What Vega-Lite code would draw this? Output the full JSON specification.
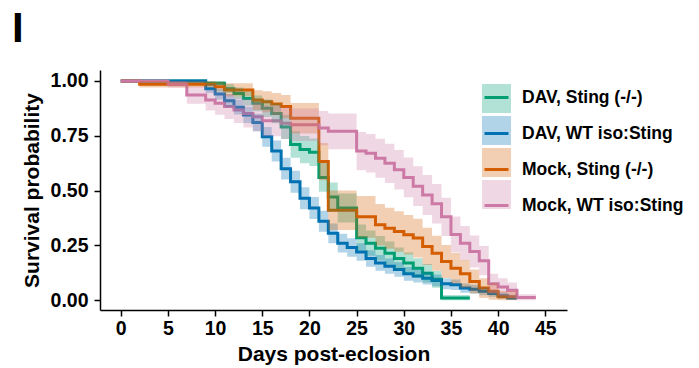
{
  "$schema": "https://vega.github.io/schema/vega-lite/v6.json",
  "width": 467,
  "height": 240,
  "autosize": {"type": "pad"},
  "padding": {"left": 12, "top": 8, "right": 0, "bottom": 0},
  "title": {"text": "I", "anchor": "start", "frame": "bounds", "fontSize": 42, "fontWeight": "bold", "font": "Liberation Sans", "color": "black", "dx": -9, "offset": 19},
  "config": {
    "view": {"stroke": null},
    "font": "Liberation Sans",
    "axis": {
      "domainColor": "black", "domainWidth": 1.5, "tickColor": "black", "tickWidth": 1.5, "tickSize": 6,
      "labelColor": "black", "labelFont": "Liberation Sans", "labelFontSize": 19.5, "labelFontWeight": "bold",
      "titleColor": "black", "titleFont": "Liberation Sans", "titleFontSize": 21, "titleFontWeight": "bold",
      "grid": false, "labelPadding": 3
    }
  },
  "data": {"values": [
    {"group": "DAV, Sting (-/-)", "day": 0, "surv": 1, "lower": 1, "upper": 1},
    {"group": "DAV, Sting (-/-)", "day": 9, "surv": 0.99, "lower": 0.98, "upper": 1},
    {"group": "DAV, Sting (-/-)", "day": 11, "surv": 0.965, "lower": 0.945, "upper": 0.985},
    {"group": "DAV, Sting (-/-)", "day": 12, "surv": 0.943, "lower": 0.916, "upper": 0.97},
    {"group": "DAV, Sting (-/-)", "day": 13, "surv": 0.92, "lower": 0.888, "upper": 0.952},
    {"group": "DAV, Sting (-/-)", "day": 14, "surv": 0.898, "lower": 0.862, "upper": 0.934},
    {"group": "DAV, Sting (-/-)", "day": 15, "surv": 0.875, "lower": 0.835, "upper": 0.915},
    {"group": "DAV, Sting (-/-)", "day": 16, "surv": 0.852, "lower": 0.807, "upper": 0.897},
    {"group": "DAV, Sting (-/-)", "day": 17, "surv": 0.79, "lower": 0.735, "upper": 0.845},
    {"group": "DAV, Sting (-/-)", "day": 18, "surv": 0.71, "lower": 0.65, "upper": 0.77},
    {"group": "DAV, Sting (-/-)", "day": 19, "surv": 0.687, "lower": 0.625, "upper": 0.749},
    {"group": "DAV, Sting (-/-)", "day": 20, "surv": 0.675, "lower": 0.612, "upper": 0.738},
    {"group": "DAV, Sting (-/-)", "day": 21, "surv": 0.56, "lower": 0.494, "upper": 0.626},
    {"group": "DAV, Sting (-/-)", "day": 22, "surv": 0.47, "lower": 0.403, "upper": 0.537},
    {"group": "DAV, Sting (-/-)", "day": 23, "surv": 0.42, "lower": 0.354, "upper": 0.486},
    {"group": "DAV, Sting (-/-)", "day": 25, "surv": 0.285, "lower": 0.225, "upper": 0.345},
    {"group": "DAV, Sting (-/-)", "day": 26, "surv": 0.26, "lower": 0.202, "upper": 0.318},
    {"group": "DAV, Sting (-/-)", "day": 27, "surv": 0.237, "lower": 0.181, "upper": 0.293},
    {"group": "DAV, Sting (-/-)", "day": 28, "surv": 0.214, "lower": 0.16, "upper": 0.268},
    {"group": "DAV, Sting (-/-)", "day": 29, "surv": 0.19, "lower": 0.14, "upper": 0.24},
    {"group": "DAV, Sting (-/-)", "day": 30, "surv": 0.169, "lower": 0.121, "upper": 0.217},
    {"group": "DAV, Sting (-/-)", "day": 31, "surv": 0.146, "lower": 0.101, "upper": 0.191},
    {"group": "DAV, Sting (-/-)", "day": 32, "surv": 0.123, "lower": 0.081, "upper": 0.165},
    {"group": "DAV, Sting (-/-)", "day": 33, "surv": 0.095, "lower": 0.057, "upper": 0.133},
    {"group": "DAV, Sting (-/-)", "day": 34, "surv": 0.01, "lower": 0, "upper": 0.024},
    {"group": "DAV, Sting (-/-)", "day": 37, "surv": 0.01, "lower": 0, "upper": 0.024},

    {"group": "DAV, WT iso:Sting", "day": 0, "surv": 1, "lower": 1, "upper": 1},
    {"group": "DAV, WT iso:Sting", "day": 9, "surv": 0.965, "lower": 0.945, "upper": 0.985},
    {"group": "DAV, WT iso:Sting", "day": 10, "surv": 0.94, "lower": 0.915, "upper": 0.965},
    {"group": "DAV, WT iso:Sting", "day": 11, "surv": 0.91, "lower": 0.88, "upper": 0.94},
    {"group": "DAV, WT iso:Sting", "day": 12, "surv": 0.88, "lower": 0.847, "upper": 0.913},
    {"group": "DAV, WT iso:Sting", "day": 13, "surv": 0.845, "lower": 0.808, "upper": 0.882},
    {"group": "DAV, WT iso:Sting", "day": 14, "surv": 0.81, "lower": 0.77, "upper": 0.85},
    {"group": "DAV, WT iso:Sting", "day": 15, "surv": 0.745, "lower": 0.7, "upper": 0.79},
    {"group": "DAV, WT iso:Sting", "day": 16, "surv": 0.68, "lower": 0.632, "upper": 0.728},
    {"group": "DAV, WT iso:Sting", "day": 17, "surv": 0.6, "lower": 0.55, "upper": 0.65},
    {"group": "DAV, WT iso:Sting", "day": 18, "surv": 0.54, "lower": 0.49, "upper": 0.59},
    {"group": "DAV, WT iso:Sting", "day": 19, "surv": 0.465, "lower": 0.415, "upper": 0.515},
    {"group": "DAV, WT iso:Sting", "day": 20, "surv": 0.42, "lower": 0.37, "upper": 0.47},
    {"group": "DAV, WT iso:Sting", "day": 21, "surv": 0.36, "lower": 0.312, "upper": 0.408},
    {"group": "DAV, WT iso:Sting", "day": 22, "surv": 0.305, "lower": 0.26, "upper": 0.35},
    {"group": "DAV, WT iso:Sting", "day": 23, "surv": 0.26, "lower": 0.217, "upper": 0.303},
    {"group": "DAV, WT iso:Sting", "day": 24, "surv": 0.24, "lower": 0.198, "upper": 0.282},
    {"group": "DAV, WT iso:Sting", "day": 25, "surv": 0.22, "lower": 0.18, "upper": 0.26},
    {"group": "DAV, WT iso:Sting", "day": 26, "surv": 0.19, "lower": 0.152, "upper": 0.228},
    {"group": "DAV, WT iso:Sting", "day": 27, "surv": 0.17, "lower": 0.134, "upper": 0.206},
    {"group": "DAV, WT iso:Sting", "day": 28, "surv": 0.155, "lower": 0.12, "upper": 0.19},
    {"group": "DAV, WT iso:Sting", "day": 29, "surv": 0.14, "lower": 0.107, "upper": 0.173},
    {"group": "DAV, WT iso:Sting", "day": 30, "surv": 0.12, "lower": 0.089, "upper": 0.151},
    {"group": "DAV, WT iso:Sting", "day": 31, "surv": 0.11, "lower": 0.08, "upper": 0.14},
    {"group": "DAV, WT iso:Sting", "day": 32, "surv": 0.1, "lower": 0.071, "upper": 0.129},
    {"group": "DAV, WT iso:Sting", "day": 33, "surv": 0.09, "lower": 0.063, "upper": 0.117},
    {"group": "DAV, WT iso:Sting", "day": 34, "surv": 0.075, "lower": 0.05, "upper": 0.1},
    {"group": "DAV, WT iso:Sting", "day": 35, "surv": 0.07, "lower": 0.046, "upper": 0.094},
    {"group": "DAV, WT iso:Sting", "day": 36, "surv": 0.055, "lower": 0.034, "upper": 0.076},
    {"group": "DAV, WT iso:Sting", "day": 37, "surv": 0.05, "lower": 0.03, "upper": 0.07},
    {"group": "DAV, WT iso:Sting", "day": 38, "surv": 0.04, "lower": 0.022, "upper": 0.058},
    {"group": "DAV, WT iso:Sting", "day": 39, "surv": 0.03, "lower": 0.015, "upper": 0.045},
    {"group": "DAV, WT iso:Sting", "day": 40, "surv": 0.02, "lower": 0.008, "upper": 0.035},
    {"group": "DAV, WT iso:Sting", "day": 41, "surv": 0.01, "lower": 0.002, "upper": 0.025},
    {"group": "DAV, WT iso:Sting", "day": 42, "surv": 0.01, "lower": 0.002, "upper": 0.025},

    {"group": "Mock, Sting (-/-)", "day": 0, "surv": 1, "lower": 1, "upper": 1},
    {"group": "Mock, Sting (-/-)", "day": 2, "surv": 0.985, "lower": 0.97, "upper": 1},
    {"group": "Mock, Sting (-/-)", "day": 10, "surv": 0.974, "lower": 0.952, "upper": 0.996},
    {"group": "Mock, Sting (-/-)", "day": 11, "surv": 0.959, "lower": 0.929, "upper": 0.989},
    {"group": "Mock, Sting (-/-)", "day": 14, "surv": 0.913, "lower": 0.868, "upper": 0.958},
    {"group": "Mock, Sting (-/-)", "day": 15, "surv": 0.905, "lower": 0.857, "upper": 0.953},
    {"group": "Mock, Sting (-/-)", "day": 16, "surv": 0.895, "lower": 0.845, "upper": 0.945},
    {"group": "Mock, Sting (-/-)", "day": 17, "surv": 0.883, "lower": 0.83, "upper": 0.936},
    {"group": "Mock, Sting (-/-)", "day": 18, "surv": 0.83, "lower": 0.76, "upper": 0.9},
    {"group": "Mock, Sting (-/-)", "day": 21, "surv": 0.632, "lower": 0.547, "upper": 0.717},
    {"group": "Mock, Sting (-/-)", "day": 22, "surv": 0.41, "lower": 0.32, "upper": 0.5},
    {"group": "Mock, Sting (-/-)", "day": 25, "surv": 0.38, "lower": 0.285, "upper": 0.475},
    {"group": "Mock, Sting (-/-)", "day": 27, "surv": 0.344, "lower": 0.249, "upper": 0.439},
    {"group": "Mock, Sting (-/-)", "day": 28, "surv": 0.328, "lower": 0.235, "upper": 0.421},
    {"group": "Mock, Sting (-/-)", "day": 29, "surv": 0.313, "lower": 0.221, "upper": 0.405},
    {"group": "Mock, Sting (-/-)", "day": 30, "surv": 0.298, "lower": 0.208, "upper": 0.388},
    {"group": "Mock, Sting (-/-)", "day": 31, "surv": 0.283, "lower": 0.195, "upper": 0.371},
    {"group": "Mock, Sting (-/-)", "day": 32, "surv": 0.245, "lower": 0.16, "upper": 0.33},
    {"group": "Mock, Sting (-/-)", "day": 33, "surv": 0.214, "lower": 0.134, "upper": 0.294},
    {"group": "Mock, Sting (-/-)", "day": 34, "surv": 0.176, "lower": 0.101, "upper": 0.251},
    {"group": "Mock, Sting (-/-)", "day": 35, "surv": 0.146, "lower": 0.076, "upper": 0.216},
    {"group": "Mock, Sting (-/-)", "day": 36, "surv": 0.12, "lower": 0.057, "upper": 0.183},
    {"group": "Mock, Sting (-/-)", "day": 37, "surv": 0.085, "lower": 0.03, "upper": 0.14},
    {"group": "Mock, Sting (-/-)", "day": 38, "surv": 0.055, "lower": 0.01, "upper": 0.1},
    {"group": "Mock, Sting (-/-)", "day": 39, "surv": 0.04, "lower": 0.002, "upper": 0.078},
    {"group": "Mock, Sting (-/-)", "day": 40, "surv": 0.015, "lower": 0, "upper": 0.042},
    {"group": "Mock, Sting (-/-)", "day": 42, "surv": 0.015, "lower": 0, "upper": 0.042},

    {"group": "Mock, WT iso:Sting", "day": 0, "surv": 1, "lower": 1, "upper": 1},
    {"group": "Mock, WT iso:Sting", "day": 5, "surv": 0.985, "lower": 0.97, "upper": 1},
    {"group": "Mock, WT iso:Sting", "day": 7, "surv": 0.936, "lower": 0.896, "upper": 0.976},
    {"group": "Mock, WT iso:Sting", "day": 9, "surv": 0.913, "lower": 0.865, "upper": 0.961},
    {"group": "Mock, WT iso:Sting", "day": 10, "surv": 0.898, "lower": 0.846, "upper": 0.95},
    {"group": "Mock, WT iso:Sting", "day": 11, "surv": 0.883, "lower": 0.827, "upper": 0.939},
    {"group": "Mock, WT iso:Sting", "day": 12, "surv": 0.868, "lower": 0.808, "upper": 0.928},
    {"group": "Mock, WT iso:Sting", "day": 13, "surv": 0.852, "lower": 0.788, "upper": 0.916},
    {"group": "Mock, WT iso:Sting", "day": 14, "surv": 0.837, "lower": 0.77, "upper": 0.904},
    {"group": "Mock, WT iso:Sting", "day": 15, "surv": 0.818, "lower": 0.748, "upper": 0.888},
    {"group": "Mock, WT iso:Sting", "day": 17, "surv": 0.807, "lower": 0.735, "upper": 0.879},
    {"group": "Mock, WT iso:Sting", "day": 18, "surv": 0.8, "lower": 0.726, "upper": 0.874},
    {"group": "Mock, WT iso:Sting", "day": 21, "surv": 0.785, "lower": 0.707, "upper": 0.863},
    {"group": "Mock, WT iso:Sting", "day": 22, "surv": 0.77, "lower": 0.688, "upper": 0.852},
    {"group": "Mock, WT iso:Sting", "day": 25, "surv": 0.68, "lower": 0.593, "upper": 0.767},
    {"group": "Mock, WT iso:Sting", "day": 26, "surv": 0.67, "lower": 0.582, "upper": 0.758},
    {"group": "Mock, WT iso:Sting", "day": 27, "surv": 0.647, "lower": 0.558, "upper": 0.736},
    {"group": "Mock, WT iso:Sting", "day": 28, "surv": 0.624, "lower": 0.534, "upper": 0.714},
    {"group": "Mock, WT iso:Sting", "day": 29, "surv": 0.595, "lower": 0.505, "upper": 0.685},
    {"group": "Mock, WT iso:Sting", "day": 30, "surv": 0.56, "lower": 0.469, "upper": 0.651},
    {"group": "Mock, WT iso:Sting", "day": 31, "surv": 0.52, "lower": 0.429, "upper": 0.611},
    {"group": "Mock, WT iso:Sting", "day": 32, "surv": 0.48, "lower": 0.389, "upper": 0.571},
    {"group": "Mock, WT iso:Sting", "day": 33, "surv": 0.44, "lower": 0.35, "upper": 0.53},
    {"group": "Mock, WT iso:Sting", "day": 34, "surv": 0.38, "lower": 0.293, "upper": 0.467},
    {"group": "Mock, WT iso:Sting", "day": 35, "surv": 0.3, "lower": 0.218, "upper": 0.382},
    {"group": "Mock, WT iso:Sting", "day": 36, "surv": 0.26, "lower": 0.182, "upper": 0.338},
    {"group": "Mock, WT iso:Sting", "day": 37, "surv": 0.222, "lower": 0.149, "upper": 0.295},
    {"group": "Mock, WT iso:Sting", "day": 38, "surv": 0.18, "lower": 0.113, "upper": 0.247},
    {"group": "Mock, WT iso:Sting", "day": 39, "surv": 0.075, "lower": 0.03, "upper": 0.12},
    {"group": "Mock, WT iso:Sting", "day": 40, "surv": 0.06, "lower": 0.02, "upper": 0.1},
    {"group": "Mock, WT iso:Sting", "day": 41, "surv": 0.045, "lower": 0.01, "upper": 0.08},
    {"group": "Mock, WT iso:Sting", "day": 42, "surv": 0.012, "lower": 0, "upper": 0.027},
    {"group": "Mock, WT iso:Sting", "day": 44, "surv": 0.012, "lower": 0, "upper": 0.027}
  ]},
  "layer": [
    {
      "mark": {"type": "line", "interpolate": "step-after", "strokeWidth": 3},
      "encoding": {
        "x": {"field": "day", "type": "quantitative",
              "scale": {"domain": [-2.2, 47.3], "nice": false, "zero": false},
              "axis": {"values": [0, 5, 10, 15, 20, 25, 30, 35, 40, 45], "title": "Days post-eclosion", "titlePadding": 6}},
        "y": {"field": "surv", "type": "quantitative",
              "scale": {"domain": [-0.045, 1.05], "nice": false, "zero": false},
              "axis": {"values": [0, 0.25, 0.5, 0.75, 1], "format": ".2f", "title": "Survival probability", "titlePadding": 8, "labelPadding": 6}},
        "stroke": {"field": "group", "type": "nominal",
                   "scale": {"domain": ["DAV, Sting (-/-)", "DAV, WT iso:Sting", "Mock, Sting (-/-)", "Mock, WT iso:Sting"],
                             "range": ["#009E73", "#0072B2", "#D55E00", "#CC79A7"]},
                   "legend": {"orient": "none", "legendX": 383, "legendY": 14, "title": null, "padding": 0,
                              "symbolType": "stroke", "symbolSize": 576, "symbolStrokeWidth": 3,
                              "labelFont": "Liberation Sans", "labelFontSize": 17.5,
                              "labelFontWeight": "bold", "labelColor": "black",
                              "labelOffset": 12, "rowPadding": 14, "labelLimit": 300}}
      }
    },
    {
      "mark": {"type": "area", "interpolate": "step-after", "opacity": 0.3},
      "encoding": {
        "x": {"field": "day", "type": "quantitative"},
        "y": {"field": "lower", "type": "quantitative"},
        "y2": {"field": "upper"},
        "fill": {"field": "group", "type": "nominal",
                 "scale": {"domain": ["DAV, Sting (-/-)", "DAV, WT iso:Sting", "Mock, Sting (-/-)", "Mock, WT iso:Sting"],
                           "range": ["#009E73", "#0072B2", "#D55E00", "#CC79A7"]},
                 "legend": {"orient": "right", "offset": -99, "padding": 14, "title": null,
                            "symbolType": "square", "symbolSize": 841, "symbolOpacity": 0.3, "symbolStrokeWidth": 0,
                            "labelExpr": "''", "labelOpacity": 0, "labelFontSize": 20, "rowPadding": 3}}
      }
    }
  ]
}
